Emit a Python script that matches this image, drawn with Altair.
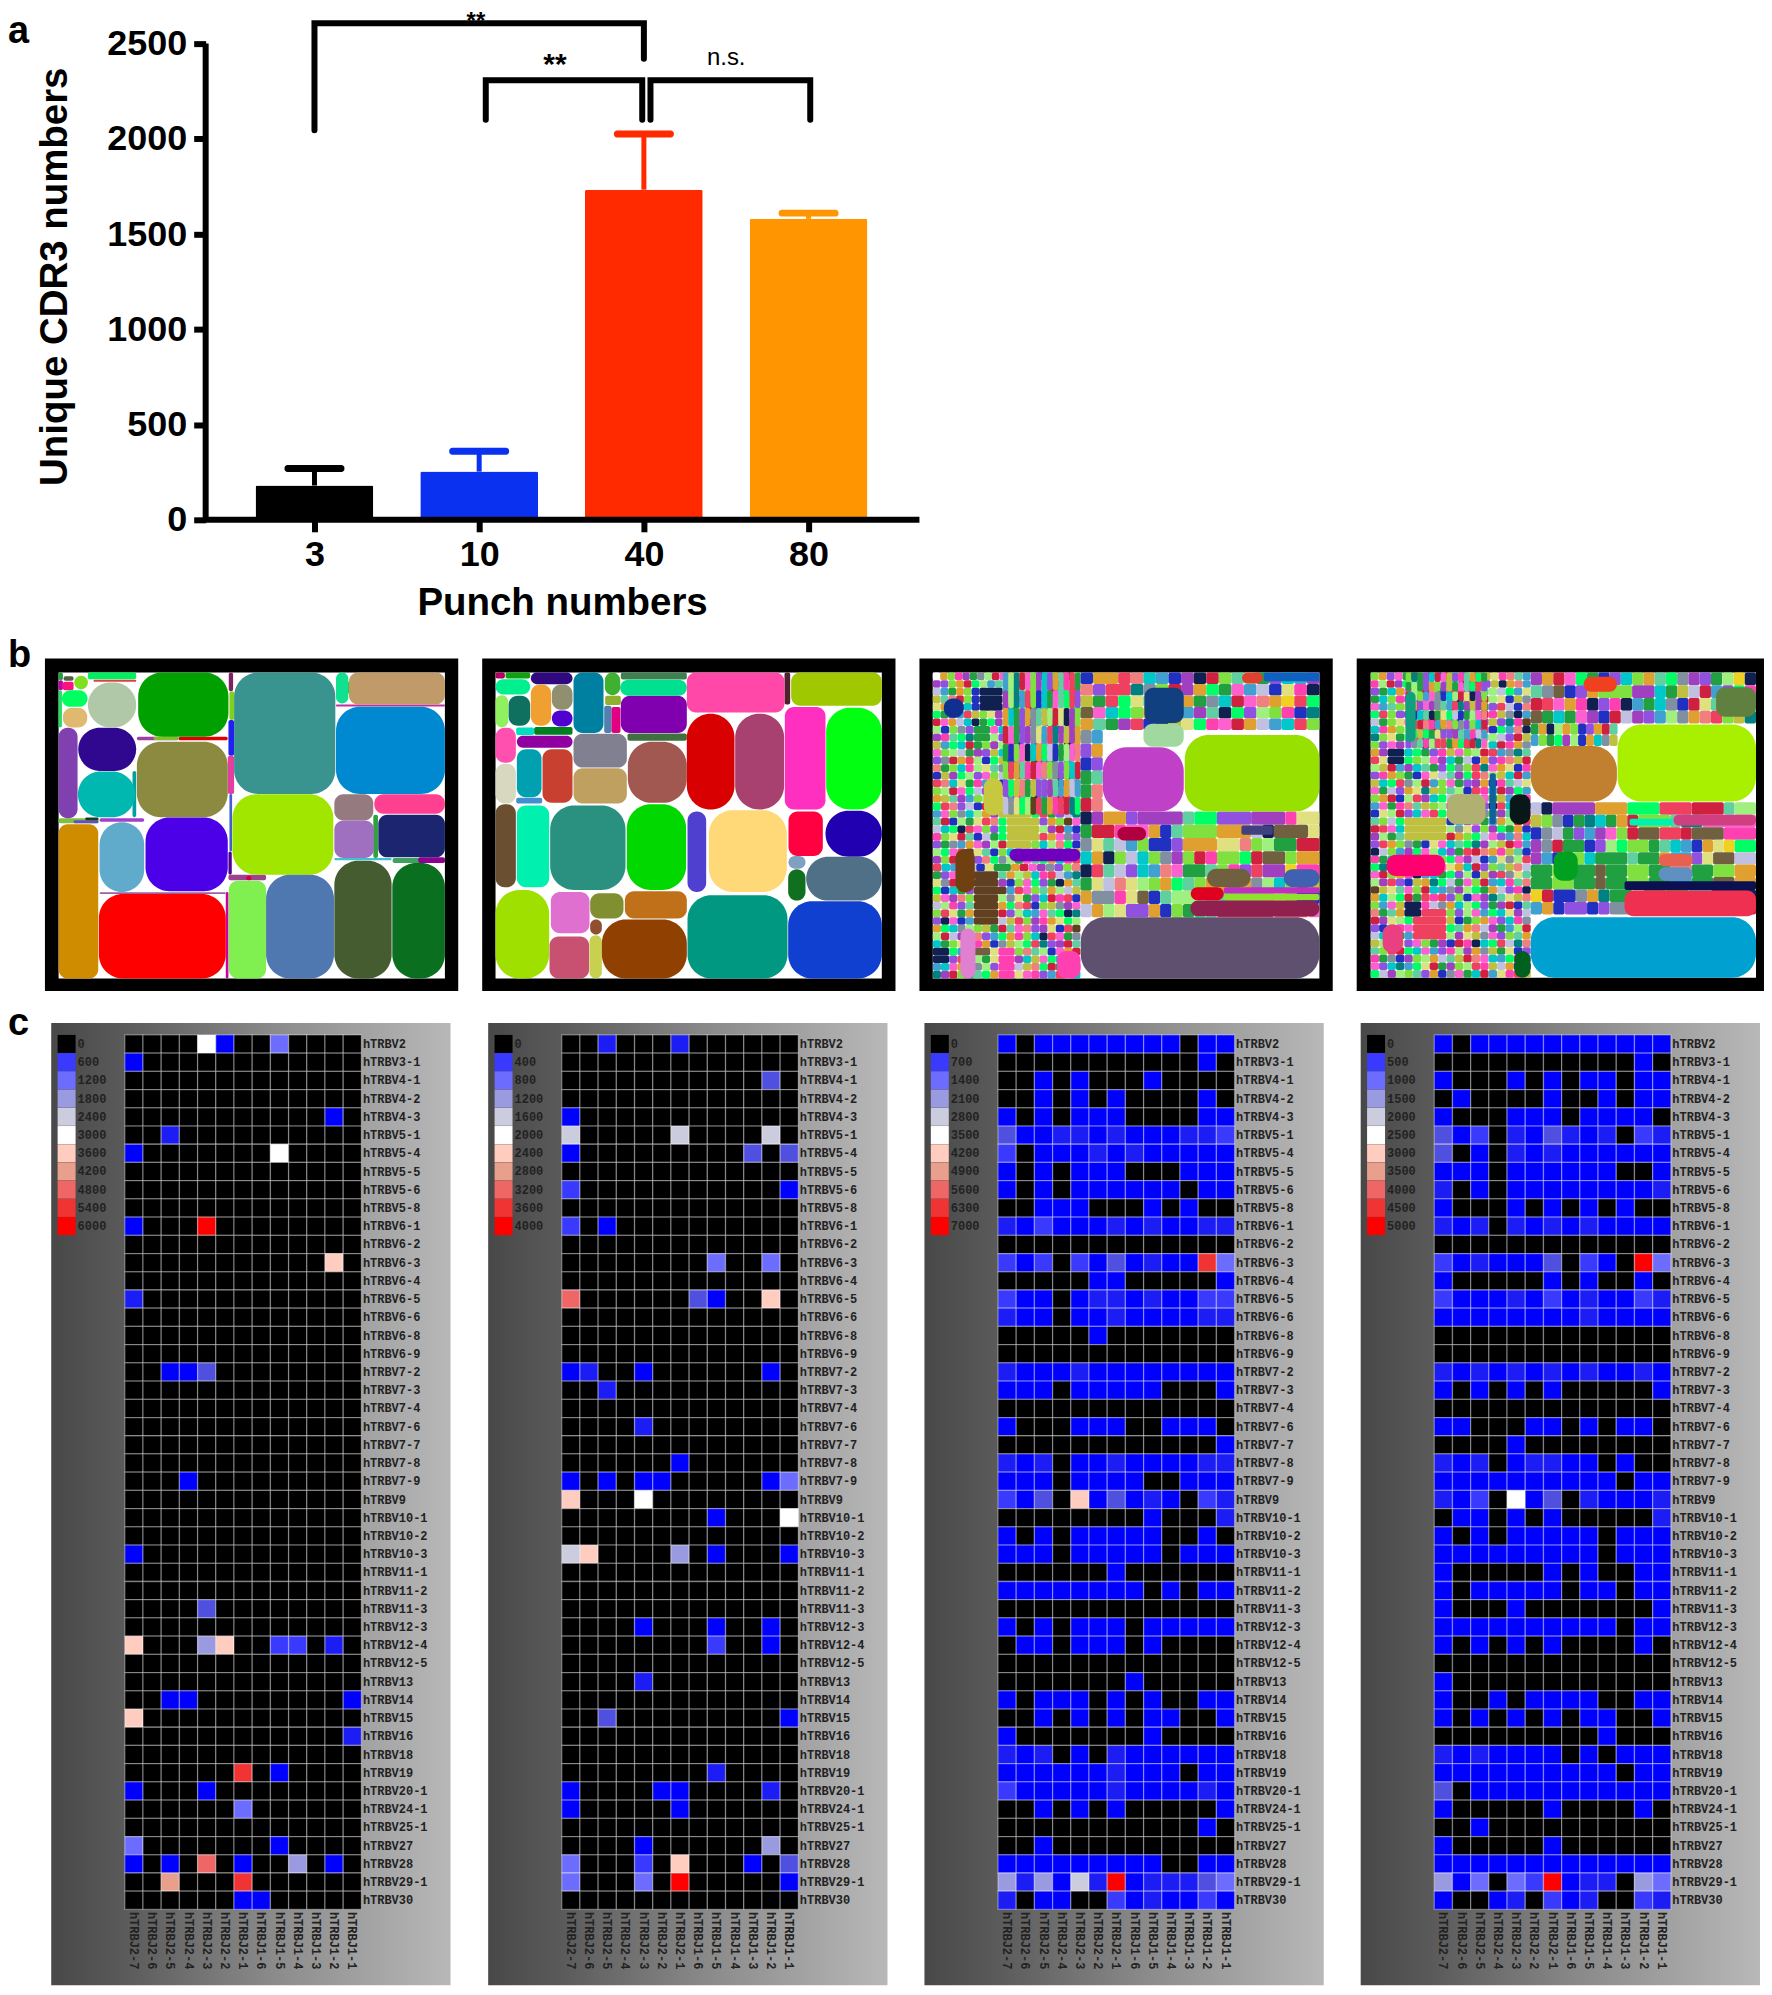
import altair as alt
import pandas as pd

SANS = "Liberation Sans"
MONO = "Liberation Mono"

# ---------- panel a ----------
punch = ["3", "10", "40", "80"]
means = [180, 253, 1733, 1580]
errs = [270, 360, 2025, 1610]
bar_cols = ["#000000", "#0a30f0", "#ff2a00", "#ff9500"]
brackets = {
    "b1": [(0, 2045), (0, 2607), (2, 2607), (2, 2420)],
    "b2": [(1.04, 2100), (1.04, 2307), (1.99, 2307), (1.99, 2100)],
    "b3": [(2.04, 2100), (2.04, 2307), (3.01, 2307), (3.01, 2100)],
}
sig = [("**", 0.98, 2675, 24, "top"), ("**", 1.46, 2390, 30, "middle"), ("n.s.", 2.5, 2423, 24, "middle")]
AX_LEFT, AX_RIGHT = -0.6606, 3.673

dummy = pd.DataFrame({"k": [0]})


def letter(t, px, py):
    return alt.Chart(dummy).mark_text(text=t, align="left", baseline="top", fontSize=38,
                                      fontWeight="bold", font=SANS, color="black").encode(
        x=alt.value(px), y=alt.value(py))


xs = alt.Scale(domain=[-1.6364, AX_RIGHT], nice=False, zero=False, padding=0)
ys = alt.Scale(domain=[0, 2678], nice=False)
bdf = pd.DataFrame({"pos": range(4), "mean": means, "err": errs, "c": bar_cols})
label_expr = "{" + ",".join(f"'{i}':'{p}'" for i, p in enumerate(punch)) + "}[datum.value]"
xax = alt.Axis(values=[0, 1, 2, 3], labelExpr=label_expr, title="Punch numbers", grid=False,
               domain=False, tickWidth=6, tickSize=12, tickColor="black",
               labelFont=SANS, labelFontWeight="bold", labelFontSize=36, labelColor="black",
               labelPadding=6, titleFont=SANS, titleFontWeight="bold", titleFontSize=38.5,
               titleColor="black", titlePadding=12, titleX=518)
yax = alt.Axis(values=[0, 500, 1000, 1500, 2000, 2500], format="d", title="Unique CDR3 numbers", grid=False,
               domain=False, tickWidth=6, tickSize=12, tickColor="black", labelFont=SANS,
               labelFontWeight="bold", labelFontSize=36, labelColor="black", labelPadding=7,
               titleFont=SANS, titleFontWeight="bold", titleFontSize=38.5, titleColor="black",
               titlePadding=32, offset=-161, titleY=267)
base = alt.Chart(bdf)
bars = base.mark_bar(size=118, cornerRadius=2).encode(
    x=alt.X("pos:Q", scale=xs, axis=xax),
    y=alt.Y("mean:Q", scale=ys, axis=yax),
    color=alt.Color("c:N", scale=None))
stems = base.mark_rule(strokeWidth=5).encode(
    x=alt.X("pos:Q", scale=xs), y=alt.Y("mean:Q", scale=ys), y2="err:Q",
    color=alt.Color("c:N", scale=None))
caps = base.mark_tick(orient="horizontal", size=60, thickness=7, cornerRadius=3, opacity=1).encode(
    x=alt.X("pos:Q", scale=xs), y=alt.Y("err:Q", scale=ys),
    color=alt.Color("c:N", scale=None))
spine = alt.Chart(pd.DataFrame({"x": [AX_LEFT], "a": [0], "b": [2500]})).mark_rule(strokeWidth=6, color="black").encode(
    x=alt.X("x:Q", scale=xs), y=alt.Y("a:Q", scale=ys), y2="b:Q")
floor = alt.Chart(pd.DataFrame({"a": [AX_LEFT], "b": [AX_RIGHT], "y": [0]})).mark_rule(strokeWidth=6, color="black").encode(
    x=alt.X("a:Q", scale=xs), x2="b:Q", y=alt.Y("y:Q", scale=ys))
bk = pd.DataFrame([dict(name=k, i=i, x=p[0], y=p[1]) for k, v in brackets.items() for i, p in enumerate(v)])
blines = alt.Chart(bk).mark_line(color="black", strokeWidth=6, strokeCap="round", clip=False).encode(
    x=alt.X("x:Q", scale=xs), y=alt.Y("y:Q", scale=ys), detail="name:N", order="i:Q")
stxt = [alt.Chart(pd.DataFrame({"x": [s[1]], "y": [s[2]]})).mark_text(
    text=s[0], fontSize=s[3], baseline=s[4], fontWeight="bold" if s[0] == "**" else "normal", font=SANS, color="black").encode(
    x=alt.X("x:Q", scale=xs), y=alt.Y("y:Q", scale=ys)) for s in sig]
panel_a = alt.layer(bars, stems, caps, spine, floor, blines, *stxt, letter("a", -37, 3)).properties(width=876, height=511)

# ---------- panel b : rectangles, in crop units ----------
tm1 = [
 (55,72,68,95,"#20a040"),(55,95,68,125,"#c000a0"),(70,83,100,97,"#506040"),(143,72,288,92,"#00f060"),
 (160,94,288,100,"#e04040"),(55,125,65,237,"#20e060"),(888,72,925,165,"#10e090"),(900,82,918,155,"#802080"),
 (920,100,928,135,"#20d020"),(888,168,1215,174,"#c030a0"),(290,265,415,276,"#a040a0"),(415,265,563,276,"#e00000"),
 (340,265,415,275,"#80c020"),(566,72,579,128,"#802060"),(568,128,582,215,"#80d020"),(565,215,582,322,"#2020f0"),
 (563,322,582,437,"#e040a0"),(568,437,576,610,"#4060d0"),(565,610,575,680,"#500090"),(55,510,175,525,"#80c040"),
 (100,516,175,525,"#6050c0"),(135,508,175,516,"#104020"),(178,510,312,521,"#a040d0"),(178,733,557,738,"#a060a0"),
 (557,732,565,992,"#d000a0"),(277,368,288,507,"#00a0a0"),(1000,500,1014,630,"#30a040"),(883,630,1055,637,"#40c0d0"),
 (1058,630,1215,645,"#40a060"),(1135,628,1215,645,"#900090"),(565,680,678,697,"#a04090"),(618,684,634,697,"#d00040"),
 (294,72,565,265,"#00a000"),(290,280,563,507,"#8b8a40"),(582,72,886,437,"#39938f"),(888,175,1215,437,"#0088d0"),
 (927,72,1215,168,"#c09a68"),(577,438,880,680,"#a0e600"),(883,438,1000,517,"#957a80"),(1003,438,1215,497,"#ff4090"),
 (883,517,1002,630,"#a070c0"),(1015,500,1215,628,"#1c2570"),(883,638,1055,992,"#445c30"),(1057,645,1215,992,"#0a7020"),
 (678,680,882,992,"#5078b0"),(566,698,678,992,"#80f050"),(176,738,557,992,"#ff0000"),(55,528,174,992,"#d08c00"),
 (178,522,312,732,"#60aacc"),(316,508,563,730,"#4b00e8"),(113,370,285,507,"#00b8b0"),(114,238,288,368,"#300890"),
 (55,238,112,510,"#8040b0"),(143,102,288,237,"#b0c8a8"),(68,178,141,237,"#e0b870"),(65,125,142,175,"#00ff60"),
 (102,82,143,122,"#80e020"),(68,100,100,125,"#ff1080"),
]
tm2 = [
 (620,72,913,192,"#ff48a8"),(933,72,1205,172,"#a0c800"),(913,72,930,168,"#502030"),(914,176,1036,484,"#ff30c0"),
 (1038,178,1205,484,"#00ff10"),(620,196,763,484,"#d80000"),(765,196,912,484,"#a84070"),(422,142,620,254,"#8000b0"),
 (420,94,620,142,"#00e090"),(422,72,620,93,"#408050"),(442,255,620,277,"#407040"),(443,280,620,464,"#a05850"),
 (280,256,440,358,"#808090"),(280,360,440,466,"#c0a060"),(280,72,370,254,"#0080a0"),(374,72,420,140,"#40b030"),
 (375,142,422,170,"#90b030"),(372,172,394,254,"#5080b0"),(394,176,421,254,"#e00080"),(152,72,277,107,"#300880"),
 (152,108,213,232,"#f0a030"),(215,108,277,184,"#909070"),(215,186,277,234,"#5000d0"),(85,142,150,232,"#107060"),
 (46,140,84,237,"#90f060"),(46,92,150,138,"#00f090"),(76,72,150,90,"#10a010"),(46,72,74,90,"#b00060"),
 (108,237,162,260,"#00e0c0"),(162,236,277,259,"#008020"),(110,262,277,298,"#9000a0"),(46,238,107,343,"#ff50b0"),
 (46,346,107,466,"#d8d8c0"),(110,303,184,447,"#00a0b0"),(187,303,277,464,"#c84030"),(108,449,186,466,"#4090d0"),
 (46,468,107,718,"#6a5030"),(110,472,207,718,"#00f0b0"),(210,472,436,726,"#2a9080"),(440,468,618,726,"#00d800"),
 (622,490,678,732,"#5040d0"),(686,486,920,732,"#ffd878"),(925,490,1028,624,"#ff0040"),(1036,488,1205,626,"#2000b0"),
 (978,626,1205,758,"#507088"),(924,664,976,758,"#107020"),(925,624,976,662,"#80a0c0"),(46,726,207,992,"#a0e000"),
 (212,732,328,856,"#e070d0"),(330,736,430,812,"#809030"),(434,730,620,812,"#c07018"),(365,815,620,992,"#904000"),
 (208,866,327,992,"#c85070"),(328,862,365,992,"#c8d050"),(330,815,365,860,"#905030"),(622,742,922,992,"#009880"),
 (924,760,1205,992,"#1040d0"),
]
tm3 = [
 (808,260,1212,490,"#98e000"),(562,297,805,490,"#c040c8"),(496,808,1212,992,"#605070"),(687,118,805,224,"#104080"),
 (684,226,805,295,"#a0d8a0"),(825,758,1212,805,"#902050"),(826,718,925,757,"#e00020"),(925,738,1212,757,"#90e030"),
 (925,718,1212,737,"#c030c0"),(282,602,495,640,"#7000c0"),(120,603,178,733,"#704010"),(205,390,262,502,"#c8c840"),
 (85,150,145,208,"#103090"),(425,910,495,992,"#ff40b0"),(135,842,180,992,"#e080d0"),(875,662,1005,717,"#706040"),
 (1105,664,1212,717,"#4060b0"),(606,537,692,577,"#b00040"),(978,532,1072,560,"#404080"),(1045,72,1212,98,"#1060c0"),
 (980,72,1042,105,"#e04030"),
]
tm4 = [
 (802,228,1218,460,"#a8f000"),(541,293,800,460,"#c08030"),(541,808,1218,990,"#00a0d0"),(823,728,1218,805,"#f03050"),
 (823,700,1218,726,"#0a1050"),(970,500,1218,532,"#d04080"),(838,512,968,532,"#00f0b0"),(1098,116,1218,205,"#608040"),
 (108,620,283,684,"#ff0070"),(290,437,405,528,"#b0b070"),(478,438,540,528,"#081818"),(96,830,157,915,"#e84080"),
 (700,85,800,130,"#f04020"),(610,610,682,698,"#00a020"),(925,618,1028,655,"#e86050"),(925,658,1028,698,"#6090c0"),
 (492,910,540,990,"#006020"),(165,130,195,280,"#10a080"),(418,375,436,528,"#1060a0"),
]

tile_colors = {
 "a":"#00ff66","b":"#2030c0","c":"#00c8c8","d":"#a040c0","e":"#f04060","f":"#ff40b0","g":"#80e040","h":"#c0c040",
 "i":"#604020","j":"#20a040","k":"#e0a030","l":"#c0c0e0","m":"#8090a0","n":"#102050","o":"#f08080","p":"#40a0d0",
 "q":"#e0e080","r":"#d02040","s":"#60d0a0","t":"#9050e0","u":"#008080","v":"#a0f080","w":"#ffffff","x":"#ff60d0",
 "y":"#f0d020","z":"#706040",
}

m3_left = (52, 72, 495, 992, [
 "wkgfdjmvrxohklbpaeiq","dtgkravpshcumxfjrlo","lpjkgbnnnadvhtmrcxe","hsorgbnnnyetcxajkvi","qkvdcbnnnfjgrupxlha",
 "ajtpehgqdvtmsrxcolu","rxklcnjadvhfbgtipeo","vbgmtjjxcgrlsqdufa","dfsaujjvtcgxkpoheb","hpacrjgdvfbltxmqnk",
 "xgvljdthcesgopruab","tmrkevbahuxgidjlcq","ojgcfvqsmbntpkrdxa","bhdavtxglkrejcmius","eocqjfpgbavxtshnkr",
 "gvrxaltmdekcjhbopu","khsdpgvjqtfancxrel","aeotlbrkhhhgsmvdxc","pxgmcvkdhhhhaejtlu","srbvjqeoahhhhtkgix",
 "lcanexgtahhhhvdrpb","fgqrsbljahhhhekxmt","tjmpkxdvrhhhgcvoab","vaxeiqsbgcplkbfjnh","dgrhutoamvjxsakcfe",
 "ecpvlbqjjkrxdmtgo","jtxgaiiiskvhcfelpu","qmrvoiiidbgxatjnks","abcjtiiiipexgskvlh","hxdogiiivmqjtcrfeb",
 "lvftsiiikaoebghmdx","geqjkiiirtvcpxsanu","tnxbpiiilhegdfkqav","kacmvghjrsxotdqbei","vrldsotpakfgcnexjm",
 "cjgqxfkbmhvaeutdrs","nnaplzzqffgosvbxkr","nntegvjqffdchxapml","pcxkbmvtfflhoarjgd","udrgjsakffqxftpevc",
])
m3_top = (495, 72, 1212, 245, [
 "bkkeocpbdnrgsvjtcpd","oteeumgrdkajxplbqfn","hjeaqsdvkjmcrxokyea","zxcagkrlpdsnatvgfbu","ksjdebnhqafxrklpceg",
])
m3_side = (495, 245, 562, 490, ["mp", "tk", "bt", "js", "jo", "ro"])
m3_mid = (495, 490, 1212, 808, [
 "ndkktddddsaatttdddfqq","jrrfxxkbsgggkkklnzzzq","mqslpgbbtkkkqqogvjjrr","cknglcgmdgrfggarzzgkk",
 "nesltcpoxjjsgfteddyff","jqloqvgkasgkkjkmvcgzh","kmmfqzbsvvvssggghqgbb","lkvqttkbgjasrrrrreeex",
])
m3_strips = (262, 72, 495, 500, [
 "pdkrjgtl","vvcxbeam","uujjgkhq","rpttxsoa","xekdnfjv","ggmmcrhi","dbsqkxte","cchpaotj",
 "tjvelgdk","kxrubmsf","ssqdjtpe","fanhvgkr","eeddxclu","jtgkorpa",
])
m4_left = (60, 72, 541, 990, [
 "gktxjimzbradvehqfosp","fvrdasxglcabjethnkop","tjckxgrhueeddsvlapq","jcgfdtxaspnkgrvqbhm",
 "xpsghrcvkdaufjtelbo","aegtbdjksvxtcrfhmnp","ljgqxaerkpbvsdhtufi","cfkgvhmrjdtsxebapon",
 "ugqjaedpkgxcbsvltrh","gtxdlvbasehjoqcrfkm","kdnncajtfhxgvrepmus","eqnnagvxdcjlbktfohr",
 "vhrpdcsjtamgeuxkqbf","tfkgjbxqlsdaeovhcrp","hcaemvrpgxjtdkbfslq","xjltkquhgsvbefcrdap",
 "gkrbvedcalmqtxjhpsf","pxjfoshgvduaktnecrb","bqvrtcxeakgplmjdshf","sglahhhhhbctxjpkvre",
 "rexchhhhhvmqtgdajkb","dvjshhhhhrkgalxtpoc","tekgmjbqxcsaudvhrfp","nlgpdaxvctjerokfhsb",
 "fjcrksthgaxdlbpqmve","aumbedvjxqkcrtgshol","xrgkfnpcjatvbhdemqs","vdetbhkualjxgrpcfso",
 "ihqsxgrcpmdvajkltfn","kcvarjefetgbxdusqho","gpxhnnflmkcvatjdrbs","ojsknneeegtvxpacqdl",
 "rdqvaeeeehbjgkxtcfm","tbgfxeeeeaskoldjpvr","lcajpeeeevdqhmxtgsk","hvkqtxgjdbrfncaeluo",
 "sgeracxptfvdkmhjqbt","fjmbdgvklshroxcpaet","xtcupaqrjdgvefhlkbn","aldvgstkbmxjcrpqfeh",
])
m4_top = (541, 72, 1218, 225, [
 "dkrxajbtcgksamdtjvyn","smzbtkgggddcjhlrptaf","rexkfntfnpjcmbrqsdga","zjcjxdbrldtpvmkoeghu",
])
m4_mid = (541, 462, 1218, 800, [
 "lnddddkkkaaaeeerrrsvv","hgmbjucjkrgggsuuxxxxx","bmljtpdxgrzzeerzzzfff","dmrjjbtvaggjscpbkqyaa",
 "dpbtgcjjjsjjkpptqzzll","jjggjjzjjggjjoojjggkk","jjggjjzjjggjjppjjzzkk","yrbbmkujjlzzjjccnnnn",
 "pkbttbtmmuujnxxrrrrr",
])
m4_side = (541, 225, 802, 293, ["jknvkgbtkrs", "pgjadvbkcmh"])
m4_strips = (165, 72, 410, 300, [
 "gjrdxkqt","uvvkbeam","jjgtcrhs","ttpxsoaf","ckxdnfjv","rgmmjpqe","xdbsqkte","hhcpaotj",
 "tjvelgdk","fxrubmsa","ssqdjtpe","kanhvgfr","aeddxclu","jtgkorpx",
])


def expand(rows_box, vertical=False):
    x0, y0, x1, y1, rows = rows_box
    out = []
    for r, row in enumerate(rows):
        c = 0
        while c < len(row):
            e = c
            while e + 1 < len(row) and row[e + 1] == row[c]:
                e += 1
            a, b, u, v = c / len(row), (e + 1) / len(row), r / len(rows), (r + 1) / len(rows)
            if vertical:
                out.append((x0 + u * (x1 - x0), y0 + a * (y1 - y0), x0 + v * (x1 - x0), y0 + b * (y1 - y0), tile_colors[row[c]]))
            else:
                out.append((x0 + a * (x1 - x0), y0 + u * (y1 - y0), x0 + b * (x1 - x0), y0 + v * (y1 - y0), tile_colors[row[c]]))
            c = e + 1
    return out


def treemap(rects, inner, dom_x, lab=None, tiles=None, width=414):
    sx = alt.Scale(domain=dom_x, nice=False, zero=False, padding=0)
    sy = alt.Scale(domain=[30, 1030], nice=False, zero=False, reverse=True, padding=0)
    cols = ["x0", "y0", "x1", "y1", "c"]
    df = pd.DataFrame(rects, columns=cols)
    side = pd.concat([df.x1 - df.x0, df.y1 - df.y0], axis=1).min(axis=1)
    back = pd.DataFrame([(dom_x[0], 30, dom_x[1], 1030, "#000000"), (*inner, "#ffffff")], columns=cols)
    enc = dict(x=alt.X("x0:Q", scale=sx, axis=None), x2="x1:Q",
               y=alt.Y("y0:Q", scale=sy, axis=None), y2="y1:Q",
               color=alt.Color("c:N", scale=None))
    layers = [alt.Chart(back).mark_rect().encode(**enc)]
    if tiles:
        layers.append(alt.Chart(pd.DataFrame(tiles, columns=cols)).mark_rect(cornerRadius=2).encode(**enc))
    for d, rad in [(df[side < 30], 2), (df[(side >= 30) & (side < 130)], 9), (df[side >= 130], 24)]:
        if len(d):
            layers.append(alt.Chart(d).mark_rect(cornerRadius=rad).encode(**enc))
    if lab:
        layers.append(letter(*lab))
    return alt.layer(*layers).properties(width=width, height=333)


b1 = treemap(tm1, (55, 72, 1215, 992), [14, 1255], ("b", -37, -22))
b2 = treemap(tm2, (46, 72, 1205, 992), [6, 1246])
b3 = treemap(tm3, (52, 72, 1212, 992), [12, 1252],
             tiles=expand(m3_left) + expand(m3_top) + expand(m3_side) + expand(m3_mid) + expand(m3_strips, True))
b4 = treemap(tm4, (60, 72, 1218, 990), [18, 1242],
             tiles=expand(m4_left) + expand(m4_top) + expand(m4_mid) + expand(m4_side) + expand(m4_strips, True), width=408)

# ---------- panel c ----------
v_genes = ["hTRBV2","hTRBV3-1","hTRBV4-1","hTRBV4-2","hTRBV4-3","hTRBV5-1","hTRBV5-4","hTRBV5-5","hTRBV5-6","hTRBV5-8",
           "hTRBV6-1","hTRBV6-2","hTRBV6-3","hTRBV6-4","hTRBV6-5","hTRBV6-6","hTRBV6-8","hTRBV6-9","hTRBV7-2","hTRBV7-3",
           "hTRBV7-4","hTRBV7-6","hTRBV7-7","hTRBV7-8","hTRBV7-9","hTRBV9","hTRBV10-1","hTRBV10-2","hTRBV10-3","hTRBV11-1",
           "hTRBV11-2","hTRBV11-3","hTRBV12-3","hTRBV12-4","hTRBV12-5","hTRBV13","hTRBV14","hTRBV15","hTRBV16","hTRBV18",
           "hTRBV19","hTRBV20-1","hTRBV24-1","hTRBV25-1","hTRBV27","hTRBV28","hTRBV29-1","hTRBV30"]
j_genes = ["hTRBJ2-7","hTRBJ2-6","hTRBJ2-5","hTRBJ2-4","hTRBJ2-3","hTRBJ2-2","hTRBJ2-1","hTRBJ1-6","hTRBJ1-5","hTRBJ1-4",
           "hTRBJ1-3","hTRBJ1-2","hTRBJ1-1"]
E = "............."
h1 = ["....81..5....","1............",E,E,"...........1.","..2..........","1.......8....",E,E,E,
      "1...D........",E,"...........9.",E,"2............",E,E,E,"..114........",E,
      E,E,E,E,"...1.........",E,E,E,"1............",E,
      E,"....4........",E,"9...69..33.2.",E,E,"..11........1","9............","............2",E,
      "......C.1....","1...1........","......5......",E,"5.......1....","1.1.B.1..6.1.","..A...C......","......11....."]
h2 = ["..2...2......",E,"...........4.",E,"1............","7.....7....7.","1.........4.4",E,"3...........1",E,
      "3.1..........",E,"........5..5.",E,"B......41..9.",E,E,E,"12..1......1.","..2..........",
      E,"....2........",E,"......1......","1.1.11.....15","9...8........","........1...8",E,"79....6.1...1",E,
      E,E,"....1...1..1.","........3..1.",E,"....2........",E,"..4.........1",E,E,
      "........2....","1....11....2.","1.....1......",E,"....1......6.","5...3.9...1.4","5...5.D.....1",E]
h3 = ["1.11111111.11","...........1.","..1.1...1....","..1.1.1....1.","1.1.111....11","4112212111223","3.11121211111","1.1.111...111","1.1.111111.11","..111...1.1..",
      "2131112121122",E,"313.3141211C5",".....11.....1","311.122121133","211.112111122",".....1.......",E,"2111211111111","111.11111...1",
      E,"1...111..111.","............1","212.112111122","111.1111..111","314.914121.32","........1...2","1.1.11111..1.","111.11111.111","......1......",
      "11111111.1.11",E,"1.1.111.11111",".11.111.1....",E,".......1.....","1.111.1.1..11","..1.1.1.11..1","1.......1....","212.1.2111111",
      "1111112111.11","3111112111121","..1.1.1.....1","...........1.","..1..........","111111111..11","626172D122245","2.11..3121131"]
h4 = ["1.11111111111","...........1.","1...1.1.11.11",".1....1..1.11","1...111.1111.","413.214212.32","4.1.212111111","111.111111..1","2.1.111111112","1...1.1.1.1..",
      "212.212121111",E,"3121114.31.D5","1.....1.1..1.","3111213121132","1111111121111",E,E,"2121212121121","1.1.1.1.....1",
      E,"11...11.1.11.","....1........","212.12211.1..","1111111111.11","213.814.21112",".11.1.1.....2","1.1.11111.111","111111111.111","1.....1.1..11",
      "1.11111.11.11","1...1.......1","1111111111.11","1.1.1.1....1.",E,"1............","1..1.1111..11","1.1.1.1.11..1",".........1...","2121111.1.111",
      "1111111111.11","4.11111111111","1.....1....1.","..1..........","1.....1......","1111111111111","615.53D122.65","1..12.312..32"]
level_factor = {".": 0, "1": 0.15, "2": 0.5, "3": 1, "4": 1.5, "5": 2, "6": 3, "7": 4, "8": 5, "9": 6, "A": 7, "B": 8, "C": 9, "D": 10}
level_color = {".": "#000000", "1": "#0000ff", "2": "#1c1cf5", "3": "#3a3aff", "4": "#5050e0", "5": "#6c6cff",
               "6": "#9a9ae0", "7": "#ccccdf", "8": "#ffffff", "9": "#ffccc0", "A": "#e8a08c", "B": "#ee6666",
               "C": "#f03333", "D": "#ff0000"}
legend_chars = ".3 5 6 7 8 9 A B C D".replace(" ", "")
grad = alt.LinearGradient(gradient="linear", x1=0, x2=1, y1=0, y2=0, stops=[
    alt.GradientStop(color="#484848", offset=0), alt.GradientStop(color="#5a5a5a", offset=0.18),
    alt.GradientStop(color="#8a8a8a", offset=0.55), alt.GradientStop(color="#b8b8b8", offset=1)])
HEAT_H = 964


def heat(matrix, step, lab=None, margin=0.0):
    rows = []
    for v, row in zip(v_genes, matrix):
        for j, ch in zip(j_genes, row):
            rows.append(dict(v=v, j=j, reads=str(int(step * level_factor[ch]))))
    df = pd.DataFrame(rows)
    domain = [str(int(step * level_factor[c])) for c in level_factor]
    rng = [level_color[c] for c in level_factor]
    leg_vals = [str(int(step * level_factor[c])) for c in legend_chars]
    W = 400 + margin
    bg = alt.Chart(dummy).mark_rect(color=grad).encode(x=alt.value(margin), x2=alt.value(W), y=alt.value(0), y2=alt.value(HEAT_H))
    cells = alt.Chart(df).mark_rect(stroke="white", strokeOpacity=0.35, strokeWidth=1.3).encode(
        x=alt.X("j:N", sort=j_genes, scale=alt.Scale(domain=j_genes, range=[73.7 + margin, 310.7 + margin], paddingInner=0, paddingOuter=0),
                axis=alt.Axis(orient="bottom", offset=888 - HEAT_H, title=None, domain=False, ticks=False, labelAngle=90,
                              labelFont=MONO, labelFontWeight="bold", labelFontSize=12, labelColor="#222222",
                              labelPadding=2, labelOverlap=False)),
        y=alt.Y("v:N", sort=v_genes, scale=alt.Scale(domain=v_genes, range=[12, 888], paddingInner=0, paddingOuter=0),
                axis=alt.Axis(orient="right", offset=-89.3, title=None, domain=False, ticks=False,
                              labelFont=MONO, labelFontWeight="bold", labelFontSize=12, labelColor="#222222",
                              labelPadding=1, labelOverlap=False)),
        color=alt.Color("reads:N", scale=alt.Scale(domain=domain, range=rng),
                        legend=alt.Legend(orient="none", legendX=6.4 + margin, legendY=12, values=leg_vals, title=None,
                                          symbolType="square", symbolSize=324, symbolStrokeWidth=0, rowPadding=0.25,
                                          padding=0, labelFont=MONO, labelFontWeight="bold", labelFontSize=12,
                                          labelColor="#222222", labelOffset=2)))
    layers = [bg, cells]
    if lab:
        layers.append(letter(*lab))
    return alt.layer(*layers).properties(width=W, height=HEAT_H)


c1 = heat(h1, 600, ("c", -37, -18), margin=6.3)
c2 = heat(h2, 400)
c3 = heat(h3, 700)
c4 = heat(h4, 500)

row_b = alt.hconcat(b1, b2, b3, b4, spacing=24)
row_c = alt.hconcat(c1, c2, c3, c4, spacing=37).resolve_scale(color="independent")
chart = alt.vconcat(panel_a, row_b, row_c, spacing=14).properties(padding=0, background="white").configure_view(stroke=None)
chart.save("out.html", embed_options={"renderer": "svg", "actions": False})
